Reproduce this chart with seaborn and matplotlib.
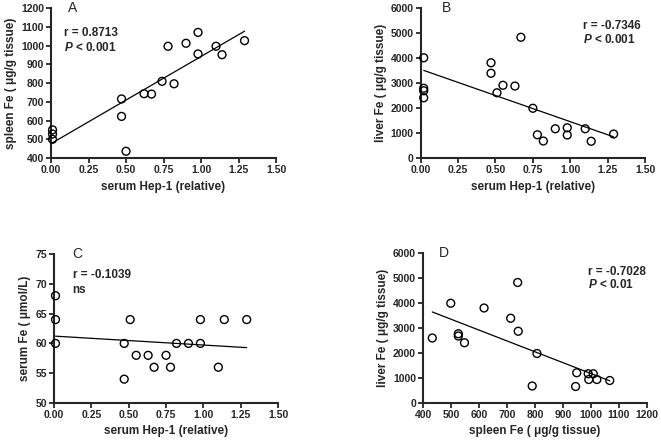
import matplotlib
matplotlib.use("Agg")
import matplotlib.pyplot as plt
import numpy as np
import seaborn as sns

# ---------------- data ----------------
# A: serum Hep-1 vs spleen Fe
hep_a = [0.01, 0.01, 0.01, 0.47, 0.47, 0.50, 0.62, 0.67, 0.74, 0.78, 0.82,
         0.90, 0.98, 0.98, 1.10, 1.14, 1.29]
spleen_a = [550, 528, 500, 715, 622, 436, 743, 741, 809, 996, 796,
            1012, 1070, 955, 996, 951, 1026]

# B: serum Hep-1 vs liver Fe
hep_b = [0.02, 0.02, 0.02, 0.02, 0.47, 0.47, 0.51, 0.55, 0.63, 0.67, 0.75,
         0.78, 0.82, 0.90, 0.98, 0.98, 1.10, 1.14, 1.29]
liver_b = [4010, 2790, 2690, 2410, 3810, 3390, 2610, 2910, 2880, 4830, 1990,
           930, 680, 1170, 1210, 920, 1170, 670, 960]

# C: serum Hep-1 vs serum Fe
hep_c = [0.01, 0.01, 0.01, 0.47, 0.47, 0.51, 0.55, 0.63, 0.67, 0.75, 0.78,
         0.82, 0.90, 0.98, 0.98, 1.10, 1.14, 1.29]
serum_c = [68, 64, 60, 60, 54, 64, 58, 58, 56, 58, 56,
           60, 60, 64, 60, 56, 64, 64]

# D: spleen Fe vs liver Fe
spleen_d = [433, 499, 526, 526, 548, 618, 713, 738, 740, 790, 807,
            945, 949, 990, 992, 1008, 1021, 1067]
liver_d = [2600, 3990, 2770, 2680, 2410, 3800, 3390, 4820, 2870, 680, 1980,
           660, 1210, 1170, 940, 1170, 940, 900]

hep_ticks = [0.00, 0.25, 0.50, 0.75, 1.00, 1.25, 1.50]

panels = [
    dict(x=hep_a, y=spleen_a, letter="A", pos=[0.0772, 0.6433, 0.3404, 0.3386],
         xlim=(0, 1.5), xticks=hep_ticks, ylim=(400, 1200),
         yticks=range(400, 1201, 100),
         xlabel="serum Hep-1 (relative)", ylabel="spleen Fe ( μg/g tissue)",
         lines=["r = 0.8713", "$P$ < 0.001"], tx=0.058, ty=[0.833, 0.74],
         lx=0.077),
    dict(x=hep_b, y=liver_b, letter="B", pos=[0.6365, 0.6433, 0.3393, 0.3386],
         xlim=(0, 1.5), xticks=hep_ticks, ylim=(0, 6000),
         yticks=range(0, 6001, 1000),
         xlabel="serum Hep-1 (relative)", ylabel="liver Fe ( μg/g tissue)",
         lines=["r = -0.7346", "$P$ < 0.001"], tx=0.725, ty=[0.88, 0.787],
         lx=0.094),
    dict(x=hep_c, y=serum_c, letter="C", pos=[0.0817, 0.0903, 0.339, 0.3363],
         xlim=(0, 1.5), xticks=hep_ticks, ylim=(50, 75),
         yticks=range(50, 76, 5),
         xlabel="serum Hep-1 (relative)", ylabel="serum Fe ( μmol/L)",
         lines=["r = -0.1039", "ns"], tx=0.083, ty=[0.859, 0.758],
         lx=0.083),
    dict(x=spleen_d, y=liver_d, letter="D", pos=[0.640, 0.0903, 0.3388, 0.3386],
         xlim=(400, 1200), xticks=range(400, 1201, 100), ylim=(0, 6000),
         yticks=range(0, 6001, 1000),
         xlabel="spleen Fe ( μg/g tissue)", ylabel="liver Fe ( μg/g tissue)",
         lines=["r = -0.7028", "$P$ < 0.01"], tx=0.738, ty=[0.875, 0.793],
         lx=0.071),
]

sns.set_style("ticks")
plt.rcParams["font.family"] = ["Liberation Sans", "DejaVu Sans"]
plt.rcParams["font.weight"] = "bold"
plt.rcParams["mathtext.fontset"] = "custom"
plt.rcParams["mathtext.it"] = "Liberation Sans:italic:bold"
plt.rcParams["mathtext.rm"] = "Liberation Sans:bold"

fig = plt.figure(figsize=(6.61, 4.43), dpi=100)

for p in panels:
    ax = fig.add_axes(p["pos"])
    sns.regplot(x=np.array(p["x"]), y=np.array(p["y"]), ax=ax, scatter=False,
                ci=None, color="black", line_kws={"linewidth": 0.9})
    sns.scatterplot(x=p["x"], y=p["y"], ax=ax, s=32, marker="o",
                    facecolor="none", edgecolor="black", linewidth=1.0,
                    zorder=3, clip_on=False)
    ax.set_xlim(*p["xlim"])
    ax.set_ylim(*p["ylim"])
    ax.set_xticks(list(p["xticks"]))
    ax.set_yticks(list(p["yticks"]))
    if p["xlim"][1] <= 2:
        ax.set_xticklabels([f"{v:.2f}" for v in p["xticks"]])
    ax.set_xlabel(p["xlabel"], fontsize=8.5, fontweight="bold", labelpad=4)
    ax.set_ylabel(p["ylabel"], fontsize=8.5, fontweight="bold", labelpad=3)
    ax.tick_params(axis="both", labelsize=7.5, length=3.5, width=1.3,
                   direction="out", pad=1.5)
    for lab in ax.get_xticklabels() + ax.get_yticklabels():
        lab.set_fontweight("bold")
    sns.despine(ax=ax)
    for s in ["left", "bottom"]:
        ax.spines[s].set_linewidth(1.5)

    ax.text(p["lx"], 1.0, p["letter"], transform=ax.transAxes, fontsize=10,
            fontweight="normal", ha="left", va="center")
    for line, y in zip(p["lines"], p["ty"]):
        ax.text(p["tx"], y, line, transform=ax.transAxes, fontsize=8.5,
                fontweight="bold", ha="left", va="center")

fig.savefig("out.png", dpi=100)
plt.close(fig)
